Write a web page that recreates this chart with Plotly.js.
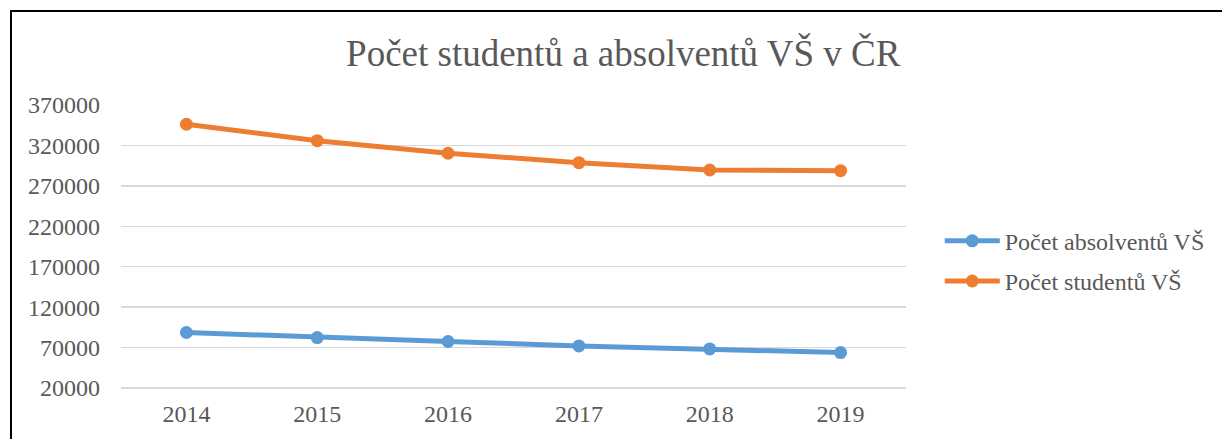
<!DOCTYPE html>
<html>
<head>
<meta charset="utf-8">
<script src="https://cdn.plot.ly/plotly-3.0.1.min.js"></script>
<style>
  html, body { margin: 0; padding: 0; background: #fff; overflow: hidden; }
  #chart { position: absolute; left: 0; top: 0; width: 1222px; height: 439px; }
  #frame { position: absolute; left: 10px; top: 10px; width: 1240px; height: 460px;
           border: 2px solid #000; pointer-events: none; box-sizing: border-box; }
</style>
</head>
<body>
<div id="chart"></div>
<div id="frame"></div>
<script>
const years = ['2014', '2015', '2016', '2017', '2018', '2019'];
const absolventi = [88600, 82400, 77500, 72000, 68300, 63800];
const studenti = [346200, 325900, 310300, 298700, 289600, 288800];
const yTicks = [20000, 70000, 120000, 170000, 220000, 270000, 320000, 370000];

const font = "'Liberation Serif', 'Times New Roman', serif";
const gray = '#595959';

const traces = [
  { x: years, y: absolventi, name: 'Počet absolventů VŠ', type: 'scatter', mode: 'lines+markers',
    line: { color: '#5b9bd5', width: 5 }, marker: { color: '#5b9bd5', size: 13 }, legendgroup: 'a' },
  { x: years, y: studenti, name: 'Počet studentů VŠ', type: 'scatter', mode: 'lines+markers',
    line: { color: '#ed7d31', width: 5 }, marker: { color: '#ed7d31', size: 13 }, legendgroup: 'b' }
];

const layout = {
  width: 1222, height: 439,
  margin: { l: 121, r: 314, t: 105, b: 49, pad: 0 },
  paper_bgcolor: '#fff', plot_bgcolor: '#fff',
  font: { family: font, size: 24, color: gray },
  title: { text: 'Počet studentů a absolventů VŠ v ČR', font: { family: font, size: 37, color: gray },
           x: 0.51, xref: 'container', xanchor: 'center', y: 0.879, yref: 'container', yanchor: 'middle' },
  xaxis: { type: 'category', range: [-0.5, 5.5], showgrid: false, showline: false, zeroline: false,
           ticks: '', ticklabelstandoff: 7, tickfont: { family: font, size: 24, color: gray }, fixedrange: true },
  yaxis: { range: [17500, 370000], tickvals: yTicks, ticktext: yTicks.map(String),
           showgrid: true, gridcolor: '#d9d9d9', gridwidth: 1.5, zeroline: false, showline: false,
           ticks: '', ticklabelstandoff: 20, tickfont: { family: font, size: 24, color: gray }, fixedrange: true },
  showlegend: true,
  legend: { x: 1.043, xanchor: 'left', y: 0.452, yanchor: 'middle', xref: 'paper', yref: 'paper',
            font: { family: font, size: 24, color: gray }, itemwidth: 55, traceorder: 'grouped',
            tracegroupgap: 6, bgcolor: 'rgba(0,0,0,0)' }
};

Plotly.newPlot('chart', traces, layout, { displayModeBar: false, staticPlot: true });
</script>
</body>
</html>
